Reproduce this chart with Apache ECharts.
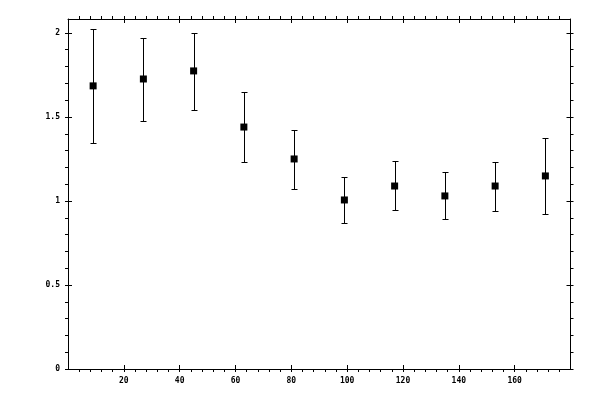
<!DOCTYPE html>
<html>
<head>
<meta charset="utf-8">
<script src="https://cdn.jsdelivr.net/npm/echarts@6/dist/echarts.min.js"></script>
<style>
html,body{margin:0;padding:0;background:#fff;}
#chart{width:600px;height:400px;}
</style>
</head>
<body>
<div id="chart"></div>
<script>
// Data
const xValues = [9, 27, 45, 63, 81, 99, 117, 135, 153, 171];
const yValues = [1.685, 1.726, 1.774, 1.440, 1.250, 1.006, 1.089, 1.030, 1.089, 1.149];
const yLow    = [1.345, 1.476, 1.543, 1.232, 1.071, 0.869, 0.946, 0.893, 0.940, 0.923];
const yHigh   = [2.024, 1.968, 2.000, 1.649, 1.423, 1.143, 1.238, 1.173, 1.232, 1.375];

// Tick labels
const xMajor = [20, 40, 60, 80, 100, 120, 140, 160];
const yMajor = [0, 0.5, 1, 1.5, 2];

// Minor tick positions
const xMinor = [];
for (let v = 4; v <= 176; v += 4) xMinor.push(v);
const yMinor = [];
for (let i = 0; i <= 20; i++) yMinor.push(Math.round(i * 10) / 100);

const X_MIN = 0, X_MAX = 180, Y_MIN = 0, Y_MAX = 2.083;

const black = '#000';
const labelStyle = {fontSize: 8, fontFamily: 'DejaVu Sans Mono', fontWeight: 'bold', color: black};

function xAx(pos, inside, ticks, showLine, labels) {
  return {
    type: 'value', position: pos, min: X_MIN, max: X_MAX,
    axisLine: {show: showLine, onZero: false, lineStyle: {color: black, width: 1}},
    axisTick: {show: true, inside: inside, length: inside ? 4 : 3, customValues: ticks,
               lineStyle: {color: black, width: 1}},
    axisLabel: labels ? Object.assign({show: true, customValues: xMajor, margin: 8}, labelStyle) : {show: false},
    splitLine: {show: false}, minorTick: {show: false}
  };
}
function yAx(pos, inside, ticks, showLine, labels) {
  return {
    type: 'value', position: pos, min: Y_MIN, max: Y_MAX,
    axisLine: {show: showLine, onZero: false, lineStyle: {color: black, width: 1}},
    axisTick: {show: true, inside: inside, length: inside ? 4 : 3, customValues: ticks,
               lineStyle: {color: black, width: 1}},
    axisLabel: labels ? Object.assign({show: true, customValues: yMajor, margin: 8,
               formatter: v => String(v)}, labelStyle) : {show: false},
    splitLine: {show: false}, minorTick: {show: false}
  };
}

const errData = xValues.map((x, i) => [x, yLow[i], yHigh[i]]);
const ptData = xValues.map((x, i) => [x, yValues[i]]);

const chart = echarts.init(document.getElementById('chart'), null, {renderer: 'canvas'});
chart.setOption({
  animation: false,
  backgroundColor: '#fff',
  grid: {left: 68, right: 29.5, top: 19, bottom: 31, containLabel: false, outerBoundsMode: 'none'},
  xAxis: [
    xAx('bottom', false, xMinor, true, true),
    xAx('bottom', true, xMajor, false, false),
    xAx('top', false, xMinor, true, false),
    xAx('top', true, xMajor, false, false)
  ],
  yAxis: [
    yAx('left', false, yMinor, true, true),
    yAx('left', true, yMajor, false, false),
    yAx('right', false, yMinor, true, false),
    yAx('right', true, yMajor, false, false)
  ],
  series: [
    {
      type: 'custom', xAxisIndex: 0, yAxisIndex: 0, data: errData,
      renderItem: function (params, api) {
        const x = api.value(0);
        const lo = api.coord([x, api.value(1)]);
        const hi = api.coord([x, api.value(2)]);
        const px = Math.round(lo[0]) + 0.5;
        const ly = Math.round(lo[1]) + 0.5;
        const hy = Math.round(hi[1]) + 0.5;
        const hw = 3;
        const style = {stroke: black, lineWidth: 1, fill: null};
        return {
          type: 'group',
          children: [
            {type: 'line', shape: {x1: px, y1: ly, x2: px, y2: hy}, style: style},
            {type: 'line', shape: {x1: px - hw, y1: ly, x2: px + hw, y2: ly}, style: style},
            {type: 'line', shape: {x1: px - hw, y1: hy, x2: px + hw, y2: hy}, style: style}
          ]
        };
      }
    },
    {
      type: 'scatter', xAxisIndex: 0, yAxisIndex: 0, data: ptData,
      symbol: 'rect', symbolSize: 7,
      itemStyle: {color: black, opacity: 1}
    }
  ]
});
</script>
</body>
</html>
